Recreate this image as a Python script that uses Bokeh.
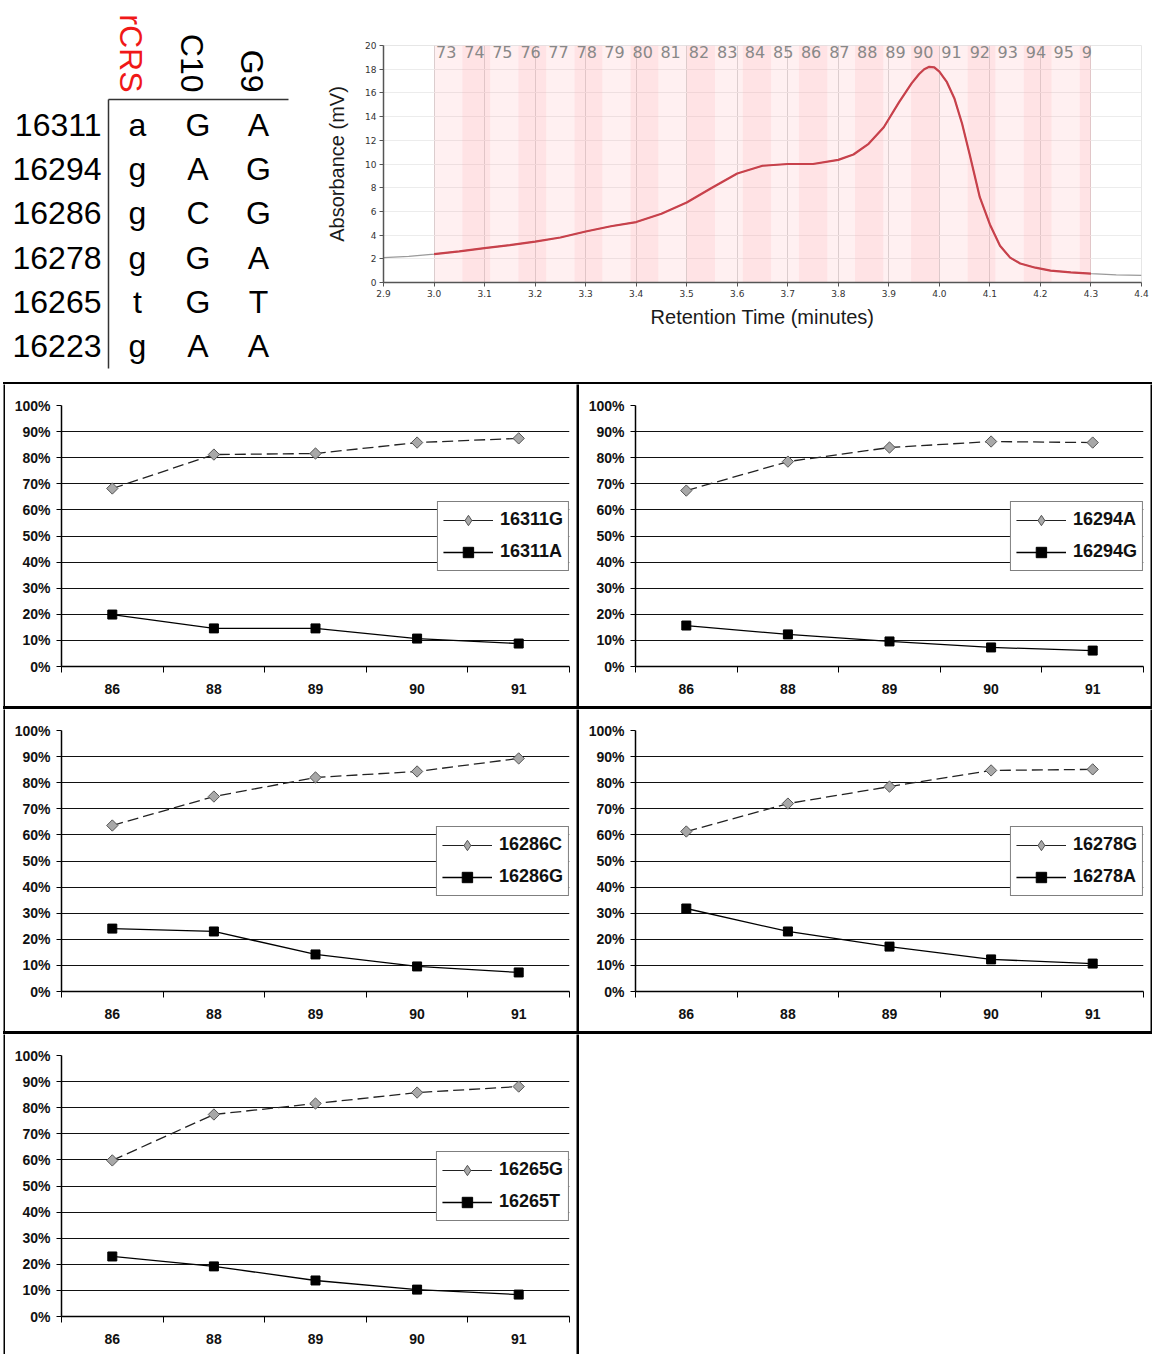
import math
from bokeh.plotting import figure
from bokeh.models import (Range1d, FixedTicker, PrintfTickFormatter, Legend, LegendItem, Spacer)
from bokeh.layouts import row, column
from bokeh.core.properties import value
from bokeh.embed import file_html
from bokeh.resources import INLINE

FONT = "Liberation Sans"

# ---------------- table data ----------------
positions = ["16311", "16294", "16286", "16278", "16265", "16223"]
samples = ["rCRS", "C10", "G9"]
sample_colors = ["#f01818", "black", "black"]
base_rcrs = ["a", "g", "g", "g", "t", "g"]
base_c10 = ["G", "A", "C", "G", "G", "A"]
base_g9 = ["A", "G", "G", "A", "T", "A"]

# ---------------- chromatogram data ----------------
ret_time = [2.90, 2.95, 3.00, 3.05, 3.10, 3.15, 3.20, 3.25, 3.30, 3.35,
            3.40, 3.45, 3.50, 3.55, 3.60, 3.65, 3.70, 3.75, 3.80, 3.83,
            3.86, 3.89, 3.92, 3.945, 3.96, 3.97, 3.98, 3.99, 4.00, 4.015,
            4.03, 4.045, 4.06, 4.08, 4.10, 4.12, 4.14, 4.16, 4.19, 4.22,
            4.26, 4.30, 4.35, 4.40]
absorbance = [2.10, 2.20, 2.40, 2.62, 2.90, 3.15, 3.45, 3.80, 4.30, 4.75,
              5.10, 5.80, 6.75, 8.00, 9.20, 9.85, 10.00, 10.00, 10.35, 10.80,
              11.70, 13.10, 15.20, 16.80, 17.60, 18.00, 18.20, 18.15, 17.80, 16.90,
              15.50, 13.40, 10.80, 7.20, 4.90, 3.10, 2.10, 1.60, 1.25, 1.00,
              0.85, 0.75, 0.65, 0.60]
chrom_x_ticks = [2.9, 3.0, 3.1, 3.2, 3.3, 3.4, 3.5, 3.6, 3.7, 3.8, 3.9, 4.0, 4.1, 4.2, 4.3, 4.4]
chrom_y_ticks = [0, 2, 4, 6, 8, 10, 12, 14, 16, 18, 20]
fraction_labels = ["73", "74", "75", "76", "77", "78", "79", "80", "81", "82", "83", "84",
                   "85", "86", "87", "88", "89", "90", "91", "92", "93", "94", "95", "9"]
fraction_edges = [3.000, 3.056, 3.111, 3.167, 3.222, 3.278, 3.333, 3.389, 3.444, 3.500,
                  3.556, 3.611, 3.667, 3.722, 3.778, 3.833, 3.889, 3.944, 4.000, 4.056,
                  4.111, 4.167, 4.222, 4.278, 4.300]

# ---------------- panel data (percent) ----------------
fractions = ["86", "88", "89", "90", "91"]
pct_ticks = [0, 10, 20, 30, 40, 50, 60, 70, 80, 90, 100]

labels_16311 = ["16311G", "16311A"]
g_16311 = [68.2, 81.2, 81.6, 85.8, 87.4]
a_16311 = [19.9, 14.6, 14.6, 10.7, 8.8]

labels_16294 = ["16294A", "16294G"]
a_16294 = [67.4, 78.5, 83.9, 86.2, 85.8]
g_16294 = [15.7, 12.3, 9.6, 7.3, 6.1]

labels_16286 = ["16286C", "16286G"]
c_16286 = [63.6, 74.7, 82.0, 84.3, 89.3]
g_16286 = [24.1, 23.0, 14.2, 9.6, 7.3]

labels_16278 = ["16278G", "16278A"]
g_16278 = [61.3, 72.0, 78.5, 84.7, 85.1]
a_16278 = [31.8, 23.0, 17.2, 12.3, 10.7]

labels_16265 = ["16265G", "16265T"]
g_16265 = [59.8, 77.4, 81.6, 85.8, 88.1]
t_16265 = [23.0, 19.2, 13.8, 10.3, 8.4]

TOP_H = 382

# ================= table figure =================
tw, th = 320, TOP_H
tab = figure(width=tw, height=th, x_range=Range1d(-2.264, 3.025), y_range=Range1d(5.811, -2.793),
             output_backend="svg", toolbar_location=None, min_border=0,
             x_axis_type=None, y_axis_type=None)
tab.frame_align = False
tab.outline_line_color = None
tab.background_fill_color = "white"
tab.border_fill_color = "white"
n = len(positions)
rows_idx = list(range(n))
tab.text(x=[-0.595] * n, y=rows_idx, text=positions, text_align="right", text_baseline="middle",
         text_font=value(FONT), text_font_size="32px", text_color="black")
for j, col in enumerate([base_rcrs, base_c10, base_g9]):
    tab.text(x=[j] * n, y=rows_idx, text=col, text_align="center", text_baseline="middle",
             text_font=value(FONT), text_font_size="32px", text_color="black")
tab.text(x=list(range(len(samples))), y=[-0.721] * len(samples), text=samples, angle=-math.pi / 2,
         text_align="right", text_baseline="middle", x_offset=-6,
         text_font=value(FONT), text_font_size="32px", text_color=sample_colors)
tab.segment(x0=[-0.479, -0.479], y0=[-0.563, -0.563], x1=[2.496, -0.479], y1=[-0.563, n - 0.505],
            line_color="#333333", line_width=1.5)

# ================= chromatogram =================
cw, ch = 833, TOP_H
chrom = figure(width=cw, height=ch, x_range=Range1d(2.9, 4.4), y_range=Range1d(0, 20),
               output_backend="svg", toolbar_location=None,
               min_border_left=63, min_border_right=12, min_border_top=45, min_border_bottom=100)
chrom.frame_align = False
chrom.background_fill_color = "white"
chrom.border_fill_color = "white"
chrom.outline_line_color = "#e6e6e6"
nf = len(fraction_labels)
chrom.quad(left=fraction_edges[:-1], right=fraction_edges[1:], bottom=[0] * nf, top=[20] * nf,
           fill_color="#ff9aa0", fill_alpha=[0.15 if i % 2 == 0 else 0.28 for i in range(nf)],
           line_color=None)
chrom.line(ret_time, absorbance, line_color="#9a9a9a", line_width=1.2)
red_t = [t for t in ret_time if fraction_edges[0] <= t <= fraction_edges[-1]]
red_a = [a for t, a in zip(ret_time, absorbance) if fraction_edges[0] <= t <= fraction_edges[-1]]
chrom.line(red_t, red_a, line_color="#c8414b", line_width=2.2, line_join="round")
chrom.text(x=fraction_edges[:-1], y=[19.41] * nf, text=fraction_labels, x_offset=2,
           text_align="left", text_baseline="middle", text_font=value("DejaVu Sans"),
           text_font_size="16px", text_color="#888888")
chrom.xaxis.ticker = FixedTicker(ticks=chrom_x_ticks)
chrom.xaxis.formatter = PrintfTickFormatter(format="%.1f")
chrom.yaxis.ticker = FixedTicker(ticks=chrom_y_ticks)
chrom.yaxis.formatter = PrintfTickFormatter(format="%d")
for ax in (chrom.xaxis[0], chrom.yaxis[0]):
    ax.axis_line_color = "#555555"
    ax.axis_line_width = 1.5
    ax.major_tick_line_color = "#555555"
    ax.major_tick_out = 4
    ax.major_tick_in = 0
    ax.minor_tick_line_color = None
    ax.major_label_text_font = "DejaVu Sans"
    ax.major_label_text_font_size = "9px"
    ax.major_label_text_color = "#333333"
    ax.major_label_standoff = 3
    ax.axis_label_text_font = FONT
    ax.axis_label_text_font_size = "20px"
    ax.axis_label_text_font_style = "normal"
    ax.axis_label_text_color = "#1a1a1a"
chrom.xaxis.axis_label = "Retention Time (minutes)"
chrom.xaxis.axis_label_standoff = 6
chrom.yaxis.axis_label = "Absorbance (mV)"
chrom.yaxis.axis_label_standoff = 14
chrom.xgrid.grid_line_color = "#d6d6d6"
chrom.ygrid.grid_line_color = "#ececec"


# ================= panel borders (black strips) =================
def vstrip(w, h):
    s = figure(width=w, height=h, output_backend="svg", toolbar_location=None, min_border=0,
               x_axis_type=None, y_axis_type=None)
    s.frame_align = False
    s.background_fill_color = "black"
    s.border_fill_color = "black"
    s.outline_line_color = None
    return s


def hstrip(w, h):
    return Spacer(width=w, height=h, styles={"background-color": "black"})


# ================= panels =================
PW = 571


def make_panel(labels, hi, lo, h):
    L, R, T, FH = 56, 7, 21, 261
    B = h - T - FH
    p = figure(width=PW, height=h, x_range=Range1d(0, len(fractions)), y_range=Range1d(0, 100),
               output_backend="svg", toolbar_location=None,
               min_border_left=L, min_border_right=R, min_border_top=T, min_border_bottom=B)
    p.frame_align = False
    p.background_fill_color = "white"
    p.border_fill_color = "white"
    p.outline_line_color = None
    xs = [i + 0.5 for i in range(len(fractions))]
    nan_y = [float("nan")] * len(xs)

    p.line(xs, hi, line_color="#222222", line_width=1.3, line_dash="11 5")
    hi_legend_line = p.line(xs, nan_y, line_color="#222222", line_width=1.2)
    hi_legend_pts = p.scatter(xs, nan_y, marker="diamond", size=11, fill_color="#a8a8a8",
                              line_color="#555555", line_width=1)
    p.scatter(xs, hi, marker="square", angle=math.pi / 4, size=8, fill_color="#a8a8a8",
              line_color="#555555", line_width=1)
    lo_line = p.line(xs, lo, line_color="black", line_width=1.3)
    lo_pts = p.scatter(xs, lo, marker="square", size=9, fill_color="black", line_color="black")

    xa = p.xaxis[0]
    xa.ticker = FixedTicker(ticks=xs, minor_ticks=list(range(len(fractions) + 1)))
    xa.major_label_overrides = {x: f for x, f in zip(xs, fractions)}
    xa.major_tick_line_color = None
    xa.major_tick_out = 0
    xa.major_tick_in = 0
    xa.minor_tick_line_color = "black"
    xa.minor_tick_out = 6
    xa.minor_tick_in = 0
    xa.major_label_standoff = 11
    xa.major_label_text_font = FONT
    xa.major_label_text_font_style = "bold"
    xa.major_label_text_font_size = "14px"
    xa.major_label_text_color = "#111111"
    xa.axis_line_color = "black"
    xa.axis_line_width = 1.5

    ya = p.yaxis[0]
    ya.ticker = FixedTicker(ticks=pct_ticks)
    ya.formatter = PrintfTickFormatter(format="%d%%")
    ya.major_tick_line_color = "black"
    ya.major_tick_out = 5
    ya.major_tick_in = 0
    ya.minor_tick_line_color = None
    ya.major_label_standoff = 6
    ya.major_label_text_font = FONT
    ya.major_label_text_font_style = "bold"
    ya.major_label_text_font_size = "14px"
    ya.major_label_text_color = "#111111"
    ya.axis_line_color = "black"
    ya.axis_line_width = 1.5

    p.xgrid.grid_line_color = None
    p.ygrid.grid_line_color = "#111111"
    p.ygrid.grid_line_width = 1.2

    legend = Legend(items=[LegendItem(label=labels[0], renderers=[hi_legend_line, hi_legend_pts]),
                           LegendItem(label=labels[1], renderers=[lo_line, lo_pts])],
                    location="center_right", margin=0, padding=5, spacing=6,
                    glyph_width=50, glyph_height=26, label_height=26, label_standoff=7,
                    border_line_color="black", border_line_width=1,
                    background_fill_color="white", background_fill_alpha=1.0,
                    label_text_font=FONT, label_text_font_style="bold",
                    label_text_font_size="18px", label_text_color="#111111")
    p.add_layout(legend)
    return p


p1 = make_panel(labels_16311, g_16311, a_16311, 322)
p2 = make_panel(labels_16294, a_16294, g_16294, 322)
p3 = make_panel(labels_16286, c_16286, g_16286, 322)
p4 = make_panel(labels_16278, g_16278, a_16278, 322)
p5 = make_panel(labels_16265, g_16265, t_16265, 320)

GW = 2 + PW + 3 + PW + 2


def prow(a, b, h, last=False):
    items = [Spacer(width=3, height=h), vstrip(2, h), a, vstrip(3, h)]
    if last:
        items.append(Spacer(width=PW + 2, height=h))
    else:
        items += [b, vstrip(2, h)]
    return row(*items)


layout = column(
    row(tab, chrom),
    row(Spacer(width=3, height=2), hstrip(GW, 2)),
    prow(p1, p2, 322),
    row(Spacer(width=3, height=3), hstrip(GW, 3)),
    prow(p3, p4, 322),
    row(Spacer(width=3, height=3), hstrip(GW, 3)),
    prow(p5, None, 320, last=True),
)

open("out.html", "w").write(file_html(layout, INLINE))
